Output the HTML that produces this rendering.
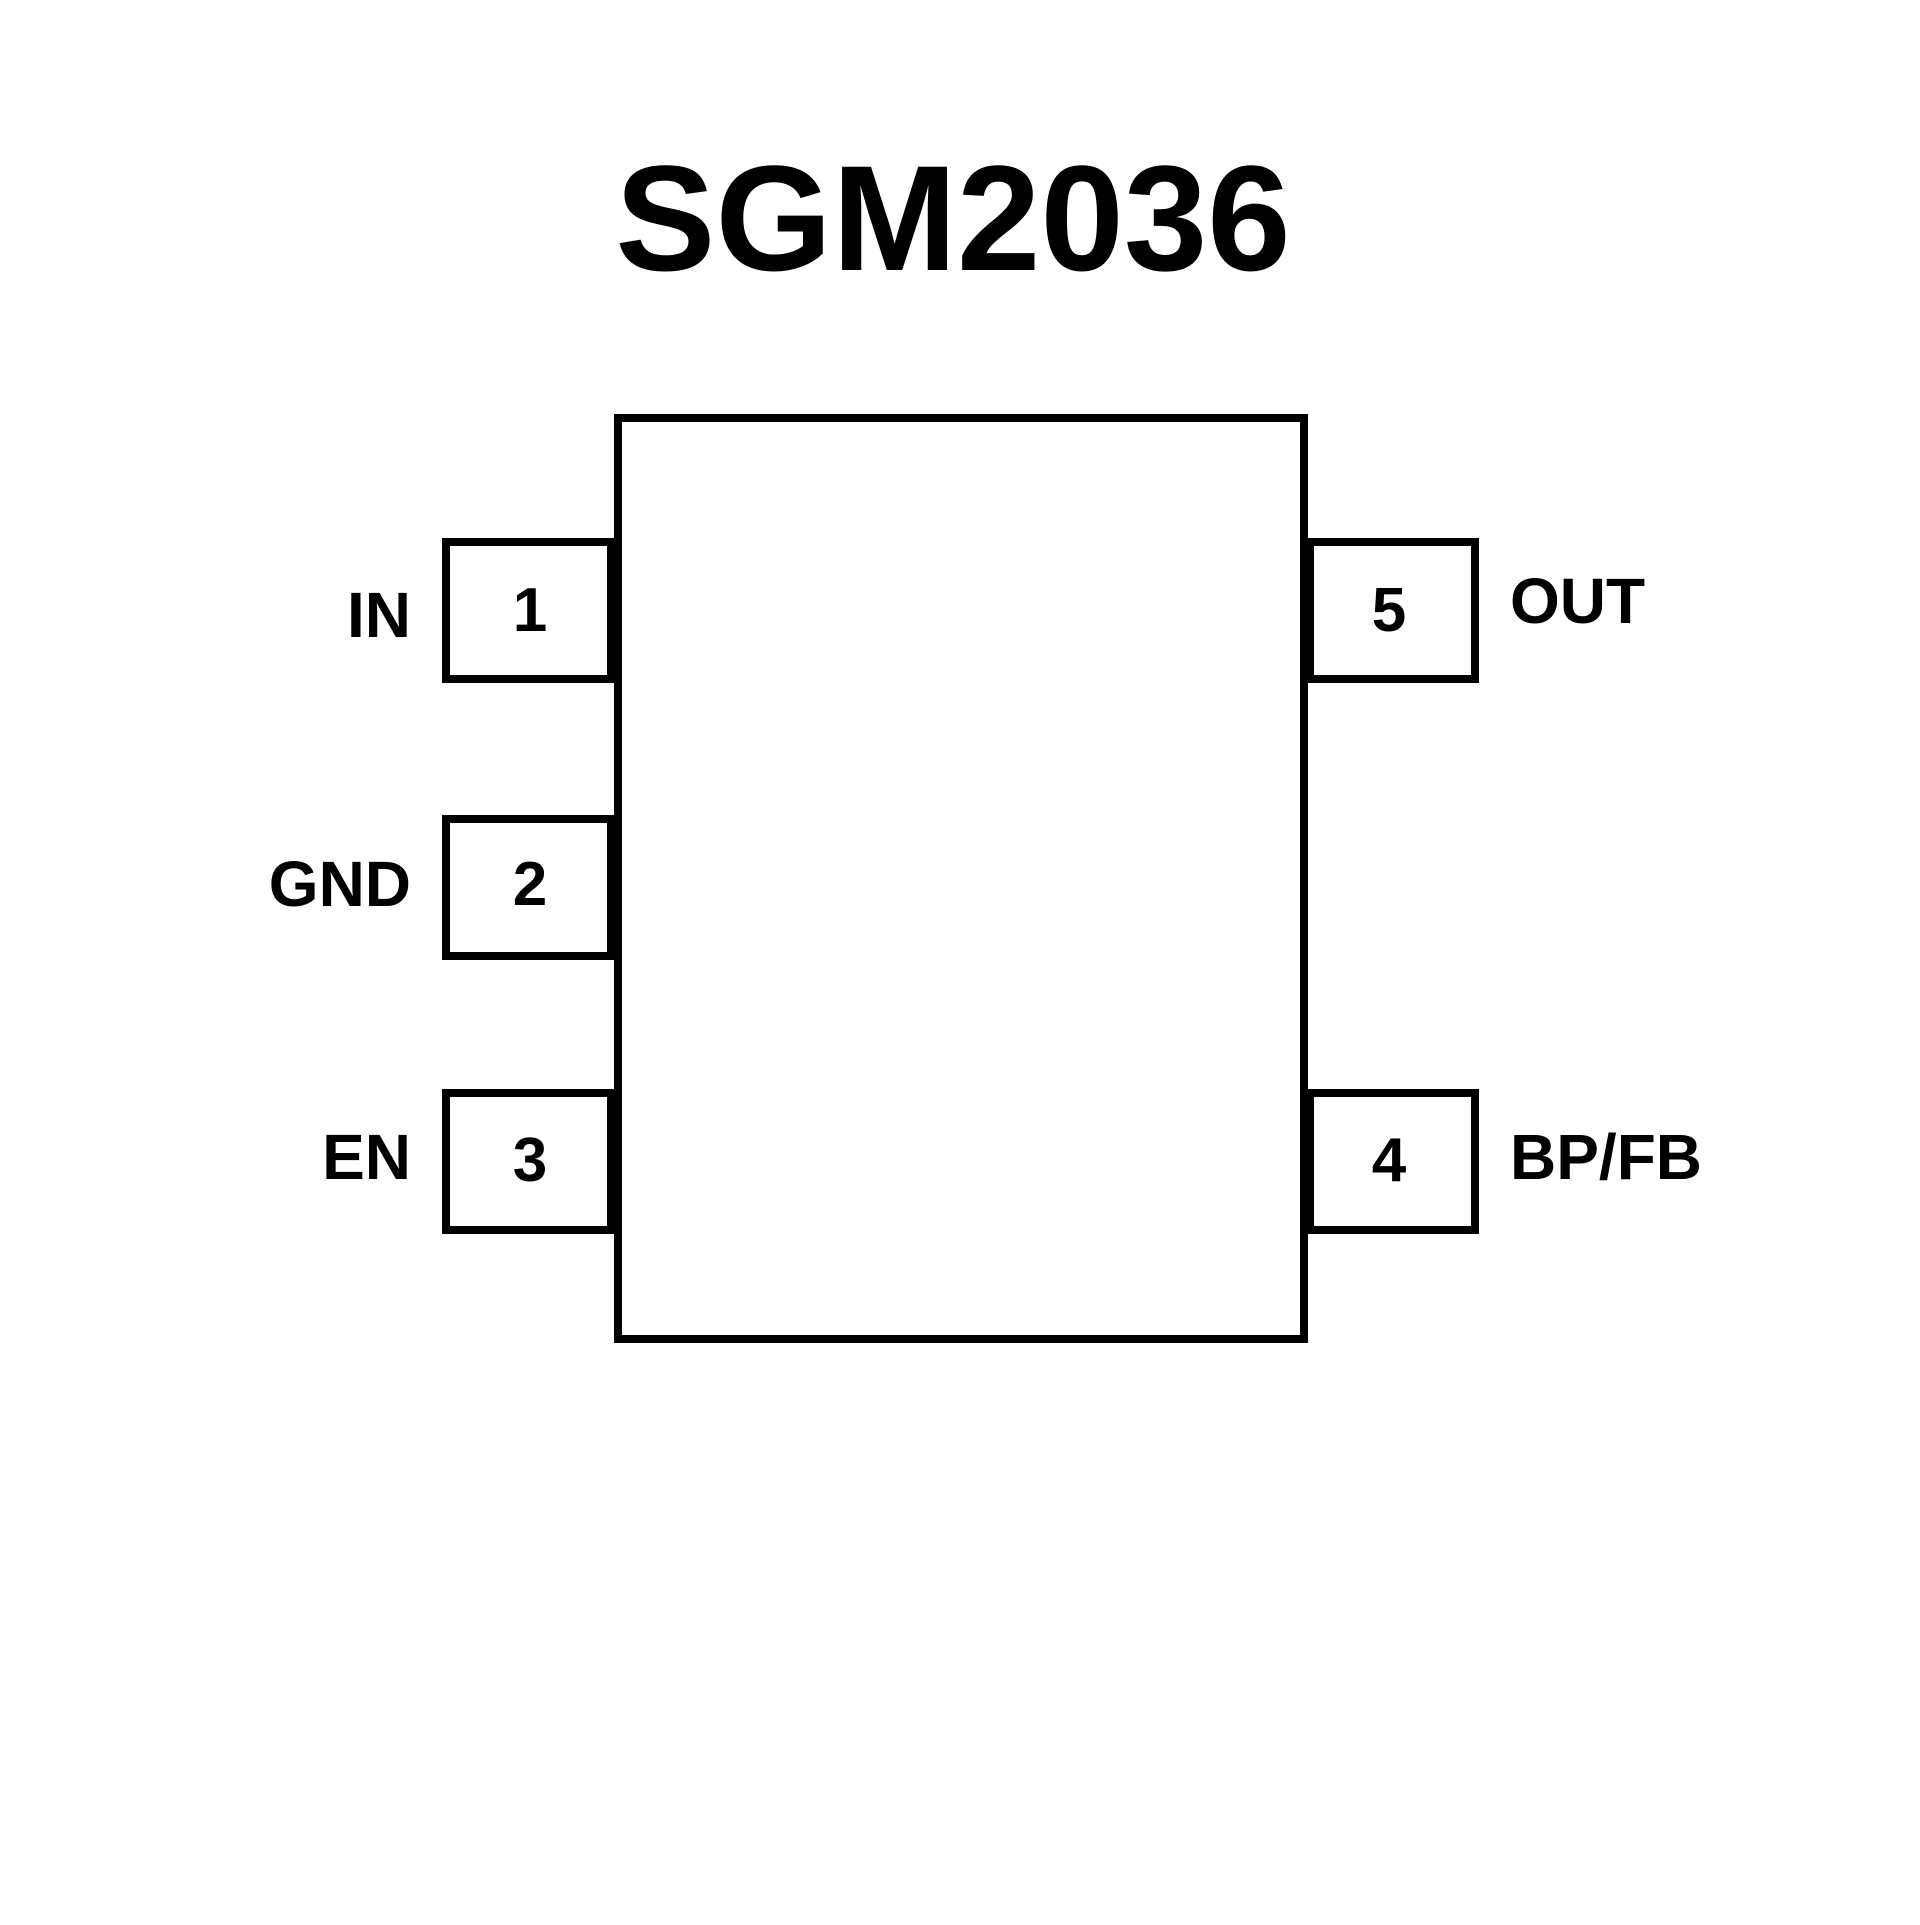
<!DOCTYPE html>
<html><head><style>html,body{margin:0;padding:0;background:#fff}</style></head>
<body>
<svg width="1920" height="1920" viewBox="0 0 1920 1920" xmlns="http://www.w3.org/2000/svg" font-family="Liberation Sans, Arial, sans-serif" font-weight="bold">
<rect width="1920" height="1920" fill="#fff"/>
<text x="953" y="270" font-size="150" text-anchor="middle" fill="#000">SGM2036</text>
<g fill="none" stroke="#000" stroke-width="8">
<rect x="618" y="418" width="686" height="921"/>
<rect x="446" y="542" width="165" height="137"/>
<rect x="446" y="819" width="165" height="137"/>
<rect x="446" y="1093" width="165" height="137"/>
<rect x="1310" y="542" width="165" height="137"/>
<rect x="1310" y="1093" width="165" height="137"/>
</g>
<g font-size="62" fill="#000" text-anchor="middle">
<text x="530" y="631">1</text>
<text x="530" y="905">2</text>
<text x="530" y="1181">3</text>
<text x="1389" y="631">5</text>
<text x="1389" y="1181">4</text>
</g>
<g font-size="64" fill="#000">
<text x="411" y="637" text-anchor="end">IN</text>
<text x="411" y="906" text-anchor="end">GND</text>
<text x="411" y="1179" text-anchor="end">EN</text>
<text x="1510" y="623">OUT</text>
<text x="1510" y="1179">BP/FB</text>
</g>
</svg>
</body></html>
